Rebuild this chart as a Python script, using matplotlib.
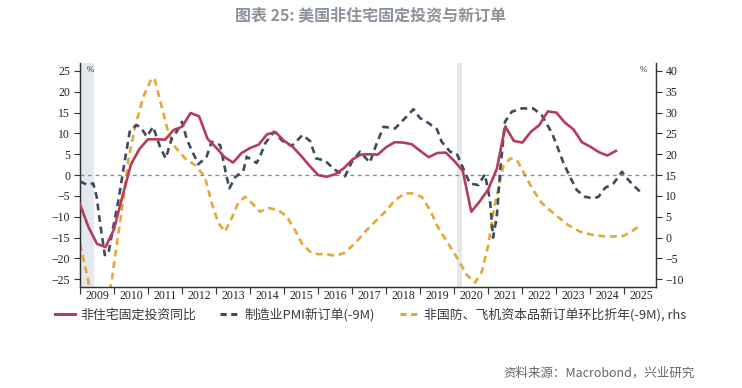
import numpy as np
import matplotlib.pyplot as plt
from matplotlib.lines import Line2D

plt.rcParams['font.family'] = ['Noto Sans CJK SC', 'DejaVu Sans']

# 非住宅固定投资同比, quarterly, first point 2009Q1 (left axis)
inv_start = 2009.0
inv_yoy = [-7.0, -12.5, -16.5, -17.3,
           -13.0, -5.0, 2.6, 6.3,
           8.6, 8.6, 8.5, 10.8,
           11.6, 14.9, 14.1, 8.7,
           6.6, 4.3, 3.0, 5.3,
           6.5, 7.3, 9.8, 10.3,
           8.2, 6.8, 4.6, 2.2,
           0.0, -0.4, 0.2, 1.6,
           3.7, 4.9, 5.0, 4.9,
           6.7, 7.9, 7.8, 7.4,
           5.8, 4.3, 5.3, 5.4,
           3.4, 1.0, -8.8, -6.3,
           -3.4, 1.5, 11.7, 8.2,
           7.8, 10.4, 12.0, 15.3,
           15.0, 12.6, 11.0, 7.9,
           6.8, 5.5, 4.7, 5.8]

# 制造业PMI新订单(-9M) (left axis)
pmi_t = [2009.00, 2009.20, 2009.39, 2009.49, 2009.59, 2009.73, 2009.83, 2009.98,
         2010.13, 2010.32, 2010.47, 2010.67, 2010.81, 2010.96, 2011.15, 2011.35,
         2011.52, 2011.70, 2011.84, 2012.00, 2012.14, 2012.28, 2012.48, 2012.72,
         2012.87, 2013.12, 2013.21, 2013.31, 2013.39, 2013.56, 2013.80, 2013.90,
         2014.06, 2014.19, 2014.29, 2014.44, 2014.70, 2014.95, 2015.22, 2015.54,
         2015.76, 2015.94, 2016.20, 2016.47, 2016.79, 2016.99, 2017.23, 2017.52,
         2017.72, 2017.92, 2018.26, 2018.50, 2018.80, 2018.99, 2019.24, 2019.49,
         2019.63, 2019.88, 2020.07, 2020.22, 2020.46, 2020.71, 2020.90, 2021.05,
         2021.14, 2021.25, 2021.35, 2021.49, 2021.69, 2021.98, 2022.32, 2022.57,
         2022.87, 2023.01, 2023.21, 2023.40, 2023.60, 2023.84, 2024.09, 2024.24,
         2024.43, 2024.68, 2024.93, 2025.12, 2025.31, 2025.51]
pmi_v = [-1.5, -2.3, -2.0, -5.2, -11.5, -19.2, -19.0, -12.4,
         -6.0, 3.6, 10.8, 12.0, 11.2, 9.2, 11.6, 6.8,
         4.0, 8.9, 10.4, 12.8, 8.6, 6.0, 2.6, 4.4,
         8.0, 7.2, 3.6, -0.4, -3.2, -0.5, 1.0, 4.4,
         3.6, 2.9, 4.4, 7.6, 10.4, 8.2, 7.0, 9.6,
         8.2, 4.0, 3.5, 1.4, -0.3, 3.2, 5.6, 3.0,
         7.6, 11.6, 11.2, 13.2, 15.8, 13.7, 12.5, 11.0,
         8.0, 5.6, 5.2, 2.4, -2.0, -2.4, 0.2, -6.0,
         -15.0, -10.0, 1.2, 12.8, 15.2, 16.0, 16.0, 14.4,
         10.1, 7.2, 2.9, -0.4, -3.6, -5.2, -5.6, -5.2,
         -3.1, -2.0, 0.8, -1.2, -2.8, -4.4]

# 非国防、飞机资本品新订单环比折年(-9M), rhs
ord_t = [2009.00, 2009.24, 2009.40, 2009.55, 2009.70, 2009.93, 2010.03, 2010.13,
         2010.27, 2010.42, 2010.62, 2010.86, 2011.11, 2011.20, 2011.40, 2011.60,
         2011.79, 2012.09, 2012.38, 2012.67, 2012.87, 2013.07, 2013.26, 2013.46,
         2013.65, 2013.85, 2014.05, 2014.29, 2014.53, 2014.83, 2015.08, 2015.32,
         2015.52, 2015.76, 2016.00, 2016.20, 2016.50, 2016.79, 2017.08, 2017.38,
         2017.67, 2017.97, 2018.26, 2018.55, 2018.75, 2019.04, 2019.29, 2019.49,
         2019.63, 2019.88, 2020.12, 2020.37, 2020.61, 2020.81, 2021.00, 2021.20,
         2021.44, 2021.64, 2021.84, 2022.03, 2022.28, 2022.57, 2022.85, 2023.01,
         2023.35, 2023.70, 2024.09, 2024.53, 2024.97, 2025.21, 2025.46]
ord_v = [-1.5, -10.2, -19.0, -22.0, -19.0, -10.6, -4.6, 1.0,
         9.0, 18.6, 26.6, 33.8, 38.3, 37.9, 31.4, 25.1,
         21.8, 19.0, 17.4, 14.6, 8.3, 3.5, 1.4, 4.7,
         8.3, 9.8, 8.3, 6.2, 7.1, 6.6, 5.0, 1.8,
         -1.4, -3.4, -4.0, -3.9, -4.4, -3.6, -1.4, 1.4,
         3.8, 6.2, 9.0, 10.6, 10.6, 9.8, 6.6, 3.0,
         1.0, -2.2, -5.4, -9.0, -10.8, -8.2, -1.8, 8.3,
         17.0, 19.0, 18.6, 15.8, 11.9, 8.3, 6.3, 5.2,
         3.0, 1.4, 0.6, 0.2, 0.4, 1.4, 3.0]

years = list(range(2009, 2026))
recessions = [(2009.0, 2009.4), (2020.07, 2020.24)]

red = '#b63d5a'
navy = '#3f4a5e'
gold = '#e5a836'

fig = plt.figure(figsize=(7.42, 3.88), dpi=100)
ax = fig.add_axes([0.1078, 0.261, 0.7759, 0.5766])
ax2 = ax.twinx()

inv_t = inv_start + 0.25 * np.arange(len(inv_yoy))

for a, b in recessions:
    ax2.axvspan(a, b, color='#e3e8f1', lw=0, zorder=0)
ax2.plot(ord_t, ord_v, color=gold, lw=1.9, ls=(0, (2.6, 1.8)), zorder=2)

ax.axhline(0, color='#888888', lw=0.9, ls=(0, (3, 3)), zorder=1)
ax.plot(pmi_t, pmi_v, color=navy, lw=1.9, ls=(0, (2.6, 1.8)), zorder=3)
ax.plot(inv_t, inv_yoy, color=red, lw=1.9, zorder=4)

ax.set_zorder(ax2.get_zorder() + 1)
ax.patch.set_visible(False)

ax.set_xlim(2009.0, 2025.92)
ax.set_ylim(-26.8, 26.9)
ax2.set_ylim(-11.8, 41.9)

ax.set_yticks(np.arange(-25, 26, 5))
ax2.set_yticks(np.arange(-10, 41, 5))
ax.set_xticks(years)
ax.set_xticklabels([])
ax.set_xticks([y + 0.5 for y in years], minor=True)
ax.set_xticklabels([str(y) for y in years], minor=True)

for a in (ax, ax2):
    a.spines['top'].set_visible(False)
    for s in ('left', 'right', 'bottom'):
        a.spines[s].set_color('#333333')
        a.spines[s].set_linewidth(0.9)
    a.tick_params(axis='y', length=4, width=0.8, color='#333333',
                  labelsize=8.5, labelcolor='#222222',
                  labelfontfamily='Liberation Serif', pad=3)
ax.tick_params(axis='x', which='major', length=5, width=0.8, color='#333333')
ax.tick_params(axis='x', which='minor', length=0, labelsize=8.5,
               labelcolor='#222222', labelfontfamily='Liberation Serif', pad=2)

ax.text(0.012, 0.985, '%', transform=ax.transAxes, va='top', ha='left',
        fontsize=6.5, color='#333333', family='Liberation Serif')
ax.text(0.985, 0.985, '%', transform=ax.transAxes, va='top', ha='right',
        fontsize=6.5, color='#333333', family='Liberation Serif')

handles = [Line2D([], [], color=red, lw=2.2),
           Line2D([], [], color=navy, lw=2.2, ls=(0, (2, 1.5))),
           Line2D([], [], color=gold, lw=2.2, ls=(0, (2, 1.5)))]
labels = ['非住宅固定投资同比', '制造业PMI新订单(-9M)', '非国防、飞机资本品新订单环比折年(-9M), rhs']
fig.legend(handles, labels, loc='center', bbox_to_anchor=(0.5, 0.188), ncol=3,
           frameon=False, fontsize=9.3, handlelength=1.5, handletextpad=0.4,
           columnspacing=1.9, labelcolor='#3a3a3a')

fig.text(0.5, 0.96, '图表 25: 美国非住宅固定投资与新订单', ha='center', va='center',
         fontsize=11.5, fontweight='bold', color='#8a929b')
fig.text(0.937, 0.039, '资料来源：Macrobond，兴业研究', ha='right', va='center',
         fontsize=9, color='#666666')

fig.savefig('out.png', dpi=100)
